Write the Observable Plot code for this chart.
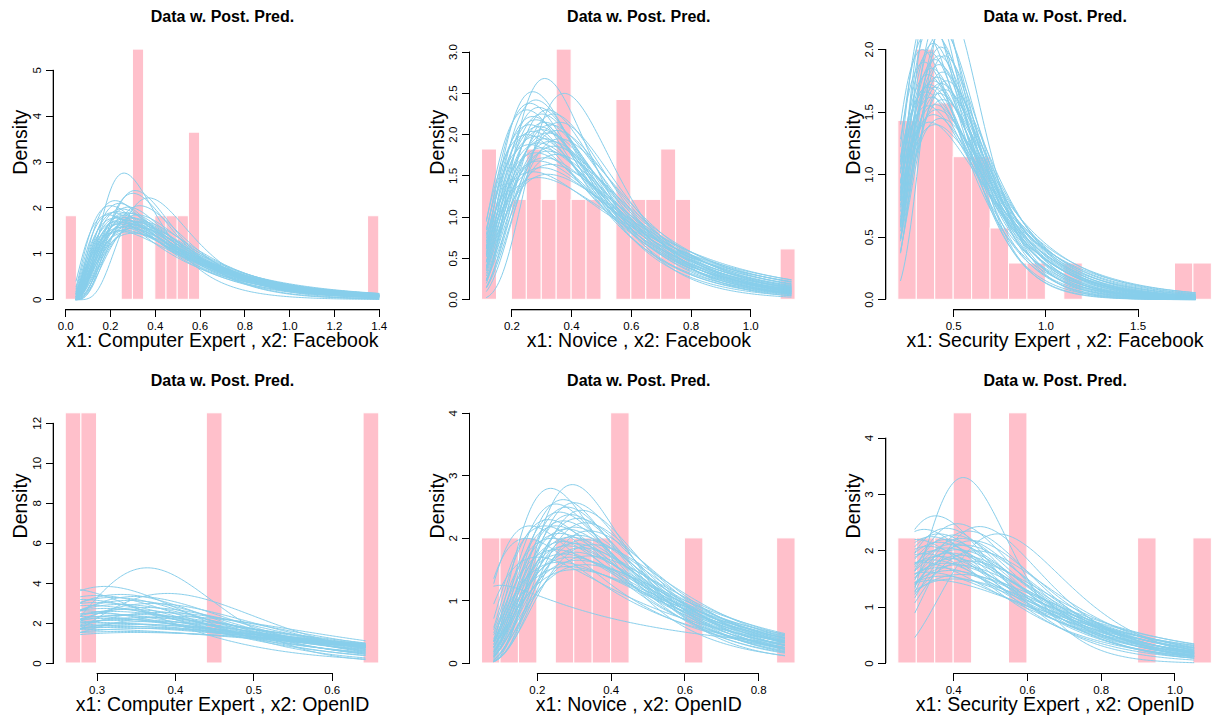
<!DOCTYPE html>
<html><head><meta charset="utf-8">
<script src="https://cdn.jsdelivr.net/npm/d3@7"></script>
<script src="https://cdn.jsdelivr.net/npm/@observablehq/plot@0.6"></script>
<style>
html,body{margin:0;padding:0;background:#fff;overflow:hidden}
#wrap{position:relative;width:1212px;height:717px;overflow:hidden;background:#fff}
#wrap > svg{position:absolute;left:0;top:0;overflow:visible;max-width:none}
#wrap > .ax{position:absolute;background:#000;z-index:5}
</style></head><body><div id="wrap"></div>
<script>
// ---------- data ----------
const title = "Data w. Post. Pred.";
const xLabels = [
  "x1: Computer Expert , x2: Facebook",
  "x1: Novice , x2: Facebook",
  "x1: Security Expert , x2: Facebook",
  "x1: Computer Expert , x2: OpenID",
  "x1: Novice , x2: OpenID",
  "x1: Security Expert , x2: OpenID"
];

// histogram bins (left edge), bin widths, densities
const p1BinStart = [0.00, 0.25, 0.30, 0.40, 0.45, 0.50, 0.55, 1.35];
const p1Density  = [1.82, 1.82, 5.45, 1.82, 1.82, 1.82, 3.64, 1.82];
const p2BinStart = [0.10, 0.20, 0.25, 0.30, 0.35, 0.40, 0.45, 0.55, 0.60, 0.65, 0.70, 0.75, 1.10];
const p2Density  = [1.82, 1.21, 1.82, 1.21, 3.03, 1.21, 1.21, 2.42, 1.21, 1.21, 1.82, 1.21, 0.61];
const p3BinStart = [0.2, 0.3, 0.4, 0.5, 0.6, 0.7, 0.8, 0.9, 1.1, 1.7, 1.8];
const p3Density  = [1.43, 2.00, 1.57, 1.14, 1.14, 0.57, 0.29, 0.29, 0.29, 0.29, 0.29];
const p4BinStart = [0.26, 0.28, 0.44, 0.64];
const p4Density  = [12.5, 12.5, 12.5, 12.5];
const p5BinStart = [0.05, 0.10, 0.15, 0.25, 0.30, 0.35, 0.40, 0.60, 0.85];
const p5Density  = [2, 2, 2, 2, 2, 2, 4, 2, 2];
const p6BinStart = [0.25, 0.30, 0.35, 0.40, 0.55, 0.90, 1.05];
const p6Density  = [2.22, 2.22, 2.22, 4.44, 4.44, 2.22, 2.22];
const binWidths  = [0.05, 0.05, 0.1, 0.02, 0.05, 0.05];

// axis ticks
const p1XTicks = [0, 0.2, 0.4, 0.6, 0.8, 1.0, 1.2, 1.4];
const p1YTicks = [0, 1, 2, 3, 4, 5];
const p2XTicks = [0.2, 0.4, 0.6, 0.8, 1.0];
const p2YTicks = [0, 0.5, 1.0, 1.5, 2.0, 2.5, 3.0];
const p3XTicks = [0.5, 1.0, 1.5];
const p3YTicks = [0, 0.5, 1.0, 1.5, 2.0];
const p4XTicks = [0.3, 0.4, 0.5, 0.6];
const p4YTicks = [0, 2, 4, 6, 8, 10, 12];
const p5XTicks = [0.2, 0.4, 0.6, 0.8];
const p5YTicks = [0, 1, 2, 3, 4];
const p6XTicks = [0.4, 0.6, 0.8, 1.0];
const p6YTicks = [0, 1, 2, 3, 4];
const yTickFormats = [".0f", ".1f", ".1f", ".0f", ".0f", ".0f"];

// posterior predictive curves: x range drawn, and each curve's peak (mode x, peak height)
const curveRanges = [[0.046, 1.398], [0.115, 1.135], [0.212, 1.81], [0.279, 0.642], [0.082, 0.87], [0.295, 1.051]];
const p1PeakX = [0.26,0.31,0.30,0.37,0.22,0.20,0.24,0.28,0.33,0.25,0.23,0.27,0.29,0.21,0.32,0.26,0.24,0.28,0.30,0.22,0.19,0.25,0.27,0.29,0.31,0.23,0.26,0.34,0.28,0.24,0.30,0.27,0.25,0.32,0.29,0.26,0.28,0.30,0.24,0.33];
const p1PeakY = [2.76,2.38,2.32,2.22,2.16,2.05,2.10,2.02,2.05,1.98,1.92,1.90,1.88,1.90,1.85,1.84,1.80,1.80,1.78,1.78,1.85,1.75,1.73,1.72,1.70,1.70,1.68,1.70,1.66,1.65,1.63,1.60,1.58,1.58,1.55,1.52,1.48,1.45,1.50,1.62];
const p2PeakX = [0.31,0.375,0.27,0.28,0.26,0.29,0.25,0.32,0.30,0.27,0.34,0.28,0.31,0.26,0.33,0.29,0.36,0.30,0.27,0.32,0.25,0.35,0.28,0.31,0.33,0.29,0.26,0.34,0.30,0.32,0.28,0.35,0.31,0.29,0.33,0.30,0.27,0.32,0.29,0.36];
const p2PeakY = [2.68,2.50,2.52,2.42,2.38,2.33,2.30,2.30,2.25,2.22,2.25,2.18,2.15,2.12,2.12,2.10,2.15,2.06,2.04,2.02,2.00,2.05,1.98,1.95,1.92,1.90,1.88,1.86,1.84,1.80,1.78,1.76,1.72,1.68,1.64,1.60,1.55,1.52,1.48,1.95];
const p3PeakX = [0.40,0.47,0.36,0.42,0.38,0.44,0.35,0.41,0.39,0.43,0.37,0.45,0.40,0.34,0.42,0.38,0.44,0.36,0.41,0.39,0.43,0.37,0.40,0.45,0.35,0.42,0.38,0.44,0.40,0.36,0.41,0.39,0.43,0.40,0.37,0.33,0.46,0.38,0.42,0.36];
const p3PeakY = [2.45,2.35,2.30,2.25,2.20,2.15,2.12,2.10,2.05,2.02,1.98,1.95,1.92,1.90,1.88,1.85,1.82,1.80,1.78,1.75,1.73,1.72,1.70,1.68,1.66,1.65,1.62,1.60,1.56,1.55,1.52,1.48,1.45,1.40,1.42,2.00,1.75,2.40,1.95,1.70];
const p4PeakX = [0.364,0.31,0.39,0.26,0.33,0.30,0.35,0.32,0.28,0.34,0.30,0.37,0.33,0.29,0.36,0.31,0.34,0.27,0.32,0.38,0.30,0.35,0.33,0.29,0.36,0.31,0.34,0.32,0.37,0.30,0.33,0.35,0.31,0.34,0.32,0.36,0.30,0.33,0.35,0.40];
const p4PeakY = [4.78,3.85,3.50,3.75,3.45,3.40,3.35,3.30,3.20,3.15,3.05,3.00,2.95,2.90,2.80,2.75,2.70,2.65,2.60,2.55,2.50,2.45,2.40,2.35,2.30,2.25,2.20,2.15,2.10,2.05,2.00,1.95,1.90,1.85,1.80,1.75,1.70,1.60,1.55,2.35];
const p5PeakX = [0.295,0.236,0.27,0.30,0.25,0.28,0.32,0.26,0.29,0.23,0.31,0.27,0.33,0.25,0.30,0.28,0.22,0.34,0.26,0.31,0.29,0.24,0.33,0.27,0.30,0.35,0.28,0.32,0.25,0.30,0.27,0.34,0.29,0.31,0.26,0.33,0.28,0.30,0.10,0.20,0.18,0.17];
const p5PeakY = [2.86,2.80,2.62,2.57,2.55,2.50,2.45,2.42,2.38,2.30,2.32,2.28,2.25,2.20,2.18,2.15,2.20,2.12,2.08,2.05,2.02,2.00,1.98,1.95,1.92,1.90,1.88,1.85,1.82,1.78,1.75,1.72,1.70,1.65,1.62,1.58,1.55,1.50,1.25,1.70,2.20,2.00];
const p6PeakX = [0.426,0.351,0.47,0.52,0.32,0.41,0.38,0.44,0.36,0.40,0.34,0.42,0.38,0.45,0.30,0.36,0.40,0.43,0.33,0.38,0.41,0.35,0.46,0.39,0.32,0.42,0.36,0.40,0.34,0.44,0.38,0.31,0.41,0.36,0.39,0.33,0.42,0.37,0.40,0.35];
const p6PeakY = [3.30,2.62,2.43,2.30,2.38,2.48,2.40,2.35,2.30,2.28,2.25,2.22,2.20,2.18,2.20,2.15,2.12,2.10,2.08,2.05,2.02,2.00,2.00,1.96,1.95,1.92,1.90,1.86,1.84,1.82,1.78,1.80,1.75,1.70,1.65,1.62,1.58,1.55,1.50,1.48];

// ---------- layout ----------
const PAGE_W = 1230, PAGE_H = 717;
const plotW = 338.6, plotH = 270.2;
const boxLeft = [52.7, 469, 885.3];
const boxBottom = [309.3, 673];
const TICK = 8;
const FONT = "Liberation Sans, Arial, Helvetica, sans-serif";

const panels = [
  {bins: p1BinStart, dens: p1Density, xt: p1XTicks, yt: p1YTicks, px: p1PeakX, py: p1PeakY},
  {bins: p2BinStart, dens: p2Density, xt: p2XTicks, yt: p2YTicks, px: p2PeakX, py: p2PeakY},
  {bins: p3BinStart, dens: p3Density, xt: p3XTicks, yt: p3YTicks, px: p3PeakX, py: p3PeakY},
  {bins: p4BinStart, dens: p4Density, xt: p4XTicks, yt: p4YTicks, px: p4PeakX, py: p4PeakY},
  {bins: p5BinStart, dens: p5Density, xt: p5XTicks, yt: p5YTicks, px: p5PeakX, py: p5PeakY},
  {bins: p6BinStart, dens: p6Density, xt: p6XTicks, yt: p6YTicks, px: p6PeakX, py: p6PeakY}
];

// log-normal curve defined by its mode and peak height
const SQ2PI = Math.sqrt(2 * Math.PI);
function lognormalFromPeak(mode, peak) {
  const target = peak * mode * SQ2PI;
  let lo = 0.02, hi = 5;
  for (let k = 0; k < 60; k++) {
    const s = (lo + hi) / 2;
    const g = Math.exp(-s * s / 2) / s;
    if (g > target) lo = s; else hi = s;
  }
  const s = (lo + hi) / 2;
  return {mu: Math.log(mode) + s * s, s};
}
function dlnorm(x, mu, s) {
  const z = (Math.log(x) - mu) / s;
  return Math.exp(-z * z / 2) / (x * s * SQ2PI);
}
// exact point where a curve meets the top of the plot region
function crossing(xa, xb, mu, s, top) {
  const fa = dlnorm(xa, mu, s) - top;
  for (let k = 0; k < 40; k++) {
    const xm = (xa + xb) / 2, fm = dlnorm(xm, mu, s) - top;
    if ((fm > 0) === (fa > 0)) xa = xm; else xb = xm;
  }
  return (xa + xb) / 2;
}

const wrap = document.getElementById("wrap");
function axisPiece(left, top, width, height) {
  const d = document.createElement("div");
  d.className = "ax";
  d.style.left = left + "px"; d.style.top = top + "px";
  d.style.width = width + "px"; d.style.height = height + "px";
  wrap.appendChild(d);
}

panels.forEach((p, i) => {
  const col = i % 3, row = Math.floor(i / 3);
  const bw = binWidths[i];
  const bars = p.bins.map((b, k) => ({x1: b, x2: b + bw, d: p.dens[k]}));
  const xmin = p.bins[0], xmax = p.bins[p.bins.length - 1] + bw;
  const ymax = d3.max(p.dens);
  const xr = xmax - xmin;
  const usrX = [xmin - 0.04 * xr, xmax + 0.04 * xr];
  const usrY = [-0.04 * ymax, ymax * 1.04];
  const top = usrY[1];
  const [lo, hi] = curveRanges[i];
  const pts = [];
  const n = Math.min(p.px.length, p.py.length);
  const N = 200;
  for (let c = 0; c < n; c++) {
    const {mu, s} = lognormalFromPeak(p.px[c], p.py[c]);
    let prevX = null, prevY = null;
    for (let j = 0; j <= N; j++) {
      const x = lo + (hi - lo) * j / N;
      const y = dlnorm(x, mu, s);
      if (prevX !== null && (prevY > top) !== (y > top)) {
        const xc = crossing(prevX, x, mu, s, top);
        pts.push({id: c, x: xc, y: top});
        if (y > top) pts.push({id: c, x: xc, y: NaN});
      }
      if (y <= top) pts.push({id: c, x, y});
      prevX = x; prevY = y;
    }
  }
  const fmtY = d3.format(yTickFormats[i]);
  const chart = Plot.plot({
    width: PAGE_W, height: PAGE_H,
    marginLeft: boxLeft[col],
    marginRight: PAGE_W - boxLeft[col] - plotW,
    marginTop: boxBottom[row] - plotH,
    marginBottom: PAGE_H - boxBottom[row],
    x: {domain: usrX},
    y: {domain: usrY},
    marks: [
      Plot.rectY(bars, {x1: "x1", x2: "x2", y1: 0, y2: "d", fill: "#FFC0CB", stroke: "white"}),
      Plot.line(pts, {x: "x", y: "y", z: "id", stroke: "#87CEEB", strokeWidth: 1}),
      Plot.ruleY([usrY[0]], {x1: p.xt[0], x2: p.xt[p.xt.length - 1], stroke: "black"}),
      Plot.ruleX([usrX[0]], {y1: p.yt[0], y2: p.yt[p.yt.length - 1], stroke: "black"}),
      Plot.axisX({ticks: p.xt, tickSize: 0, tickPadding: TICK + 4.1, tickFormat: d3.format(".1f"), fontFamily: FONT, fontSize: 11.5}),
      Plot.axisY({ticks: p.yt, tickSize: 0, tickPadding: TICK + 4.7, tickRotate: -90, tickFormat: fmtY, fontFamily: FONT, fontSize: 11.5}),
      Plot.text([title], {frameAnchor: "top", dy: -17.4, lineAnchor: "bottom", fontWeight: "bold", fontSize: 16, fontFamily: FONT}),
      Plot.text([xLabels[i]], {frameAnchor: "bottom", dy: 37.2, lineAnchor: "bottom", fontSize: 19.5, fontFamily: FONT}),
      Plot.text(["Density"], {frameAnchor: "left", dx: -26, rotate: -90, lineAnchor: "bottom", fontSize: 19.5, fontFamily: FONT})
    ]
  });
  wrap.appendChild(chart);

  // axis lines and tick marks, placed with the chart's own scales
  const sx = v => chart.scale("x").apply(v);
  const sy = v => chart.scale("y").apply(v);
  const yAxisX = Math.round(sx(usrX[0]));
  const xAxisY = Math.round(sy(usrY[0]));
  const xa = Math.round(sx(p.xt[0])), xb = Math.round(sx(p.xt[p.xt.length - 1]));
  axisPiece(xa, xAxisY, xb - xa + 1, 1);
  p.xt.forEach(t => axisPiece(Math.round(sx(t)), xAxisY, 1, TICK));
  const ya = Math.round(sy(p.yt[p.yt.length - 1])), yb = Math.round(sy(p.yt[0]));
  axisPiece(yAxisX, ya, 1, yb - ya + 1);
  p.yt.forEach(t => axisPiece(yAxisX - TICK + 1, Math.round(sy(t)), TICK, 1));
});
</script>
</body></html>
